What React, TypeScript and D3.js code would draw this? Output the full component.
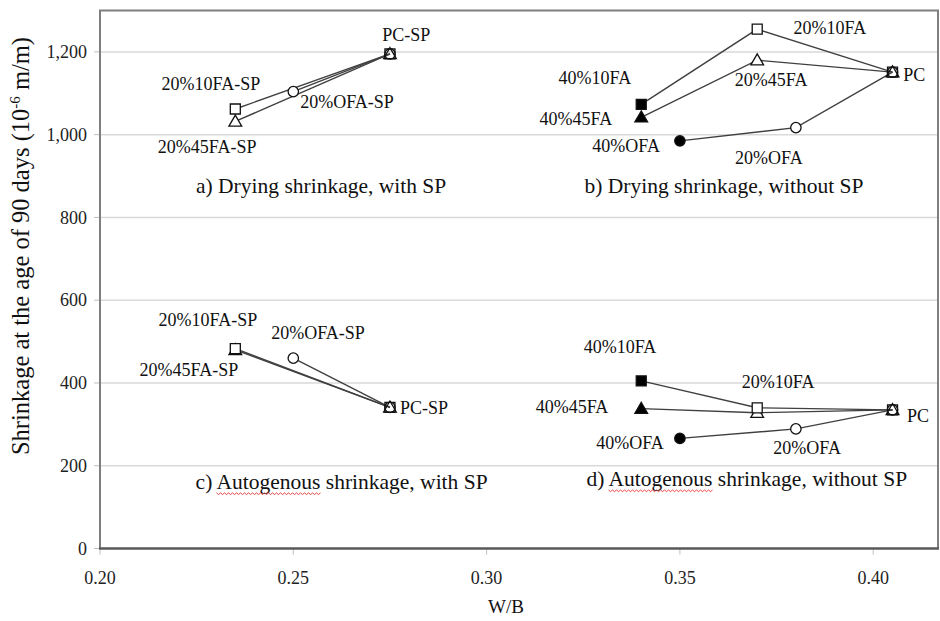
import React, { useEffect, useRef } from 'react';
import * as d3 from 'd3';

const W = 940;
const H = 621;

const xTicks = [0.2, 0.25, 0.3, 0.35, 0.4];
const yTicks = [0, 200, 400, 600, 800, 1000, 1200];
const xTitle = 'W/B';
const yTitle = 'Shrinkage at the age of 90 days (10';
const yTitleSup = '-6';
const yTitleEnd = ' m/m)';

type Pt = [number, number];

// a) Drying shrinkage, with SP
const dryingSP_10FA: Pt[] = [[0.235, 1062], [0.275, 1195]];
const dryingSP_45FA: Pt[] = [[0.235, 1032], [0.275, 1195]];
const dryingSP_0FA: Pt[] = [[0.25, 1104], [0.275, 1195]];
// b) Drying shrinkage, without SP
const drying_10FA: Pt[] = [[0.34, 1073], [0.37, 1255], [0.405, 1151]];
const drying_45FA: Pt[] = [[0.34, 1042], [0.37, 1180], [0.405, 1151]];
const drying_0FA: Pt[] = [[0.35, 985], [0.38, 1017], [0.405, 1151]];
// c) Autogenous shrinkage, with SP
const autoSP_10FA: Pt[] = [[0.235, 483], [0.275, 341]];
const autoSP_45FA: Pt[] = [[0.235, 480], [0.275, 341]];
const autoSP_0FA: Pt[] = [[0.25, 460], [0.275, 341]];
// d) Autogenous shrinkage, without SP
const auto_10FA: Pt[] = [[0.34, 405], [0.37, 340], [0.405, 335]];
const auto_45FA: Pt[] = [[0.34, 338], [0.37, 328], [0.405, 335]];
const auto_0FA: Pt[] = [[0.35, 266], [0.38, 289], [0.405, 335]];

type Shape = 'square' | 'triangle' | 'circle';
interface Series { pts: Pt[]; shape: Shape; filled: boolean[] }

const seriesList: Series[] = [
  { pts: dryingSP_0FA, shape: 'circle', filled: [false, false] },
  { pts: dryingSP_45FA, shape: 'triangle', filled: [false, false] },
  { pts: dryingSP_10FA, shape: 'square', filled: [false, false] },
  { pts: drying_0FA, shape: 'circle', filled: [true, false, false] },
  { pts: drying_45FA, shape: 'triangle', filled: [true, false, false] },
  { pts: drying_10FA, shape: 'square', filled: [true, false, false] },
  { pts: autoSP_0FA, shape: 'circle', filled: [false, false] },
  { pts: autoSP_45FA, shape: 'triangle', filled: [false, false] },
  { pts: autoSP_10FA, shape: 'square', filled: [false, false] },
  { pts: auto_0FA, shape: 'circle', filled: [true, false, false] },
  { pts: auto_45FA, shape: 'triangle', filled: [true, false, false] },
  { pts: auto_10FA, shape: 'square', filled: [true, false, false] },
];

// point labels: [text, W/B, value]
const pointLabels: [string, number, number][] = [
  ['PC-SP', 0.2792, 1226],
  ['20%10FA-SP', 0.2287, 1108],
  ['20%OFA-SP', 0.2639, 1064],
  ['20%45FA-SP', 0.2277, 956],
  ['20%10FA', 0.3888, 1243],
  ['40%10FA', 0.328, 1122],
  ['20%45FA', 0.3736, 1118],
  ['PC', 0.4106, 1130],
  ['40%45FA', 0.3231, 1023],
  ['40%OFA', 0.3361, 958],
  ['20%OFA', 0.373, 929],
  ['20%10FA-SP', 0.2279, 538],
  ['20%OFA-SP', 0.2564, 506],
  ['20%45FA-SP', 0.223, 417],
  ['PC-SP', 0.2838, 325],
  ['40%10FA', 0.3345, 472],
  ['20%10FA', 0.3754, 388],
  ['40%45FA', 0.3221, 327],
  ['PC', 0.4116, 306],
  ['40%OFA', 0.3371, 240],
  ['20%OFA', 0.3829, 228],
];

// panel titles: [text, W/B, value, underline word]
const panelTitles: [string, number, number, string][] = [
  ['a) Drying shrinkage, with SP', 0.2572, 859, ''],
  ['b) Drying shrinkage, without SP', 0.3614, 859, ''],
  ['c) Autogenous shrinkage, with SP', 0.2625, 144, 'Autogenous'],
  ['d) Autogenous shrinkage, without SP', 0.3673, 151, 'Autogenous'],
];

const FONT = "'Liberation Serif', 'Times New Roman', serif";

export default function App() {
  const ref = useRef<SVGSVGElement>(null);

  useEffect(() => {
    const svg = d3.select(ref.current);
    svg.selectAll('*').remove();

    const left = 100, right = 938, top = 10.5, bottom = 548.5;
    const x = d3.scaleLinear().domain([0.2, 0.2 + (right - left) / 3866]).range([left, right]);
    const y = d3.scaleLinear().domain([0, 1300]).range([bottom, top]);

    svg.append('rect').attr('width', W).attr('height', H).attr('fill', '#fff');

    // gridlines
    svg.append('g').selectAll('line').data(yTicks.filter(d => d > 0)).join('line')
      .attr('x1', left).attr('x2', right)
      .attr('y1', d => y(d)).attr('y2', d => y(d))
      .attr('stroke', '#d9d9d9').attr('stroke-width', 1.5);

    // y tick marks
    svg.append('g').selectAll('line').data(yTicks).join('line')
      .attr('x1', left - 6).attr('x2', left)
      .attr('y1', d => y(d)).attr('y2', d => y(d))
      .attr('stroke', '#bfbfbf').attr('stroke-width', 1);

    // x tick marks
    svg.append('g').selectAll('line').data(xTicks).join('line')
      .attr('x1', d => x(d)).attr('x2', d => x(d))
      .attr('y1', bottom).attr('y2', bottom + 6)
      .attr('stroke', '#bfbfbf').attr('stroke-width', 1);

    // frame
    svg.append('path')
      .attr('d', `M${left},${bottom}V${top}H${right}V${bottom}`)
      .attr('fill', 'none').attr('stroke', '#7f7f7f').attr('stroke-width', 2);
    svg.append('line')
      .attr('x1', left - 1).attr('x2', right + 1).attr('y1', bottom).attr('y2', bottom)
      .attr('stroke', '#595959').attr('stroke-width', 2.5);

    // tick labels
    svg.append('g').selectAll('text').data(yTicks).join('text')
      .attr('x', 87).attr('y', d => y(d)).attr('dy', '0.35em')
      .attr('text-anchor', 'end').attr('font-family', FONT).attr('font-size', 18)
      .attr('fill', '#222')
      .text(d => d3.format(',')(d));
    svg.append('g').selectAll('text').data(xTicks).join('text')
      .attr('x', d => x(d)).attr('y', 584)
      .attr('text-anchor', 'middle').attr('font-family', FONT).attr('font-size', 18)
      .attr('fill', '#222')
      .text(d => d3.format('.2f')(d));

    // axis titles
    svg.append('text').attr('x', 506).attr('y', 613).attr('text-anchor', 'middle')
      .attr('font-family', FONT).attr('font-size', 19).attr('fill', '#111').text(xTitle);
    const yt = svg.append('text')
      .attr('transform', `translate(29,246) rotate(-90)`)
      .attr('text-anchor', 'middle').attr('font-family', FONT).attr('font-size', 24.5).attr('fill', '#111');
    yt.append('tspan').text(yTitle);
    yt.append('tspan').attr('dy', -9).attr('font-size', 15).text(yTitleSup);
    yt.append('tspan').attr('dy', 9).text(yTitleEnd);

    // series lines
    const line = d3.line<Pt>().x(d => x(d[0])).y(d => y(d[1]));
    svg.append('g').selectAll('path').data(seriesList).join('path')
      .attr('d', d => line(d.pts))
      .attr('fill', 'none').attr('stroke', '#404040').attr('stroke-width', 1.4);

    // markers
    const mg = svg.append('g');
    seriesList.forEach(s => {
      s.pts.forEach((p, i) => {
        const last = i === s.pts.length - 1;
        const fill = s.filled[i] ? '#000' : last ? 'none' : '#fff';
        const sym = s.shape === 'square' ? d3.symbolSquare : s.shape === 'triangle' ? d3.symbolTriangle : d3.symbolCircle;
        const size = s.shape === 'square' ? 100 : s.shape === 'triangle' ? 70 : 85;
        mg.append('path')
          .attr('d', d3.symbol().type(sym).size(size)())
          .attr('transform', `translate(${x(p[0])},${y(p[1]) + (s.shape === 'triangle' ? 1 : 0)})`)
          .attr('fill', fill).attr('stroke', '#111').attr('stroke-width', 1.3);
      });
    });

    // point labels
    svg.append('g').selectAll('text').data(pointLabels).join('text')
      .attr('x', d => x(d[1])).attr('y', d => y(d[2]))
      .attr('text-anchor', 'middle').attr('font-family', FONT).attr('font-size', 18)
      .attr('fill', '#111')
      .text(d => d[0]);

    // panel titles
    panelTitles.forEach(t => {
      const tx = svg.append('text')
        .attr('x', x(t[1])).attr('y', y(t[2]))
        .attr('text-anchor', 'middle').attr('font-family', FONT).attr('font-size', 21.5)
        .attr('fill', '#111').text(t[0]);
      if (t[3]) {
        const node = tx.node() as SVGTextElement;
        const idx = t[0].indexOf(t[3]);
        const total = node.getComputedTextLength();
        const x0 = x(t[1]) - total / 2 + node.getSubStringLength(0, idx);
        const wlen = node.getSubStringLength(idx, t[3].length);
        const by = y(t[2]) + 4;
        let d = `M${x0},${by}`;
        for (let k = 0, xx = x0; xx < x0 + wlen; k++) {
          xx += 2;
          d += `L${xx},${by + (k % 2 === 0 ? 1.6 : 0)}`;
        }
        svg.append('path').attr('d', d).attr('fill', 'none')
          .attr('stroke', '#e03030').attr('stroke-width', 0.9);
      }
    });
  }, []);

  return (
    <svg ref={ref} width={W} height={H} style={{ position: 'absolute', left: 0, top: 0 }} />
  );
}
